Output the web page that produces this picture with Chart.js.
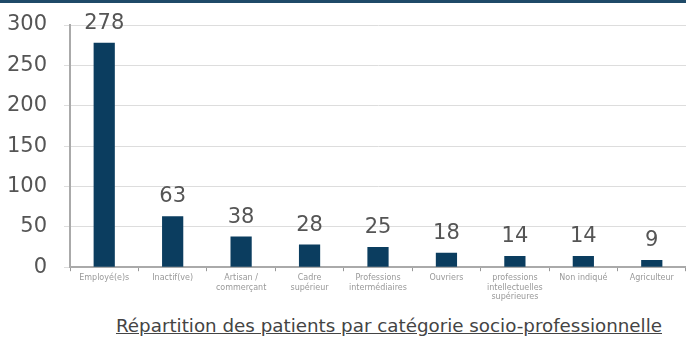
<!DOCTYPE html>
<html>
<head>
<meta charset="utf-8">
<script src="https://cdn.jsdelivr.net/npm/chart.js@4"></script>
<style>
  html, body { margin: 0; padding: 0; background: #fff; }
  body { width: 686px; height: 338px; overflow: hidden; font-family: "DejaVu Sans", sans-serif; }
  .band { height: 3px; background: #1f4a68; }
  .wrap { position: relative; width: 686px; height: 305px; }
  .title { position: absolute; left: 0; top: 315px; width: 686px; padding-left: 92px; box-sizing: border-box;
           text-align: center; font-size: 18.3px; color: #444; text-decoration: underline; white-space: nowrap; }
</style>
</head>
<body>
<div class="band"></div>
<div class="wrap"><canvas id="chart"></canvas></div>
<div class="title">Répartition des patients par catégorie socio-professionnelle</div>
<script>
// categories (multi-line labels as on the picture)
const categories = [
  'Employé(e)s',
  'Inactif(ve)',
  ['Artisan /', 'commerçant'],
  ['Cadre', 'supérieur'],
  ['Professions', 'intermédiaires'],
  'Ouvriers',
  ['professions', 'intellectuelles', 'supérieures'],
  'Non indiqué',
  'Agriculteur'
];
const patients = [278, 63, 38, 28, 25, 18, 14, 14, 9];
const yTicks = [0, 50, 100, 150, 200, 250, 300];

// value labels above each bar
const valueLabels = {
  id: 'valueLabels',
  afterDatasetsDraw(chart) {
    const ctx = chart.ctx;
    const meta = chart.getDatasetMeta(0);
    ctx.save();
    ctx.font = '21px "DejaVu Sans", sans-serif';
    ctx.fillStyle = '#555';
    ctx.textAlign = 'center';
    ctx.textBaseline = 'alphabetic';
    meta.data.forEach((bar, i) => {
      ctx.fillText(String(patients[i]), bar.x, bar.y - 14);
    });
    ctx.restore();
  }
};

new Chart(document.getElementById('chart'), {
  type: 'bar',
  data: {
    labels: categories,
    datasets: [{
      data: patients,
      backgroundColor: '#0b3d5f',
      categoryPercentage: 1,
      barPercentage: 0.31
    }]
  },
  options: {
    responsive: true, maintainAspectRatio: false, animation: false,
    layout: { padding: { top: 22, right: 0, left: 6, bottom: 4 } },
    plugins: { legend: { display: false }, tooltip: { enabled: false } },
    scales: {
      x: {
        grid: { display: true, drawOnChartArea: false, offset: true, tickLength: 4, color: '#999' },
        border: { color: '#aaa', width: 2 },
        ticks: { color: '#999', font: { size: 8, family: 'DejaVu Sans' }, maxRotation: 0, autoSkip: false, padding: 2 }
      },
      y: {
        min: 0, max: 300,
        afterBuildTicks: axis => { axis.ticks = yTicks.map(v => ({ value: v })); },
        afterFit: axis => { axis.width = 64; axis.paddingTop = 0; axis.paddingBottom = 0; },
        grid: { color: '#ddd', tickLength: 6 },
        border: { color: '#aaa', width: 2 },
        ticks: { color: '#555', font: { size: 21, family: 'DejaVu Sans' }, padding: 17 }
      }
    }
  },
  plugins: [valueLabels]
});
</script>
</body>
</html>
